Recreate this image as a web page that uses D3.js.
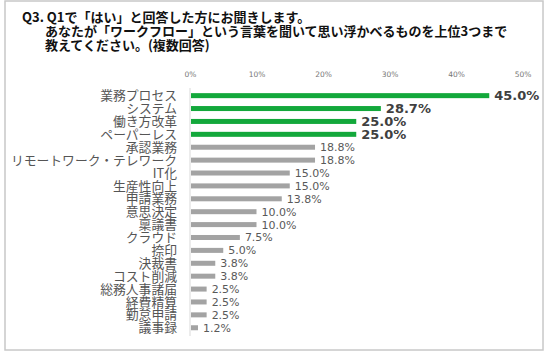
<!DOCTYPE html>
<html>
<head>
<meta charset="utf-8">
<script src="https://cdn.jsdelivr.net/npm/d3@7"></script>
<style>
  body { margin: 0; background: #fff; }
  svg { display: block; }
</style>
</head>
<body>
<div id="chart"></div>
<script>
// data
const categories = ['業務プロセス', 'システム', '働き方改革', 'ペーパーレス', '承認業務',
  'リモートワーク・テレワーク', 'IT化', '生産性向上', '申請業務', '意思決定', '稟議書',
  'クラウド', '捺印', '決裁書', 'コスト削減', '総務人事諸届', '経費精算', '勤怠申請', '議事録'];
const values = [45.0, 28.7, 25.0, 25.0, 18.8, 18.8, 15.0, 15.0, 13.8, 10.0, 10.0,
  7.5, 5.0, 3.8, 3.8, 2.5, 2.5, 2.5, 1.2];
const tickValues = [0, 10, 20, 30, 40, 50];
const titleLines = [
  'Q3. Q1で「はい」と回答した方にお聞きします。',
  'あなたが「ワークフロー」という言葉を聞いて思い浮かべるものを上位3つまで',
  '教えてください。(複数回答)'
];
const topN = 4;

const width = 547, height = 353;
const jp = '"Noto Sans CJK JP", "Noto Sans", sans-serif';
const num = '"DejaVu Sans", Verdana, sans-serif';

const svg = d3.select('#chart').append('svg')
  .attr('width', width)
  .attr('height', height);

// frame
svg.append('rect')
  .attr('x', 5).attr('y', 1)
  .attr('width', 538).attr('height', 349)
  .attr('fill', '#fff')
  .attr('stroke', '#c8c8c8')
  .attr('stroke-width', 1.5);

// title
const title = svg.append('text')
  .attr('font-family', jp)
  .attr('font-size', 13)
  .attr('font-weight', 'bold')
  .attr('fill', '#111');
title.selectAll('tspan')
  .data(titleLines)
  .join('tspan')
  .attr('x', (d, i) => i === 0 ? 22 : 45)
  .attr('y', (d, i) => 22 + i * 14)
  .text(d => d);

// scales
const x = d3.scaleLinear()
  .domain([0, 50])
  .range([190, 522.5]);

const y = d3.scaleBand()
  .domain(categories)
  .range([89.2, 334.2])
  .paddingInner(0.6)
  .paddingOuter(0.3);

// top axis
const xAxis = svg.append('g')
  .attr('transform', 'translate(0, 80)')
  .call(d3.axisTop(x).tickValues(tickValues).tickSize(0).tickFormat(d => d + '%'));
xAxis.select('.domain').remove();
xAxis.selectAll('text')
  .attr('font-family', num)
  .attr('font-size', 7.5)
  .attr('fill', '#777');

// baseline
svg.append('line')
  .attr('x1', x(0)).attr('x2', x(0))
  .attr('y1', 88).attr('y2', 336)
  .attr('stroke', '#d9d9d9');

// bars
svg.append('g')
  .selectAll('rect')
  .data(values)
  .join('rect')
  .attr('x', x(0) + 1)
  .attr('y', (d, i) => y(categories[i]) + y.bandwidth() / 2 - 2.5)
  .attr('width', d => x(d) - x(0) - 1)
  .attr('height', 5)
  .attr('fill', (d, i) => i < topN ? '#13a83b' : '#a3a3a3');

// category labels
svg.append('g')
  .selectAll('text')
  .data(categories)
  .join('text')
  .attr('x', 177)
  .attr('y', d => y(d) + y.bandwidth() / 2)
  .attr('dy', '0.36em')
  .attr('text-anchor', 'end')
  .attr('font-family', jp)
  .attr('font-size', 12.8)
  .attr('fill', '#555')
  .text(d => d);

// value labels
svg.append('g')
  .selectAll('text')
  .data(values)
  .join('text')
  .attr('x', d => x(d) + 5)
  .attr('y', (d, i) => y(categories[i]) + y.bandwidth() / 2)
  .attr('dy', '0.36em')
  .attr('font-family', num)
  .attr('font-size', (d, i) => i < topN ? 13 : 11)
  .attr('font-weight', (d, i) => i < topN ? 'bold' : 'normal')
  .attr('fill', (d, i) => i < topN ? '#404040' : '#595959')
  .text(d => d.toFixed(1) + '%');
</script>
</body>
</html>
